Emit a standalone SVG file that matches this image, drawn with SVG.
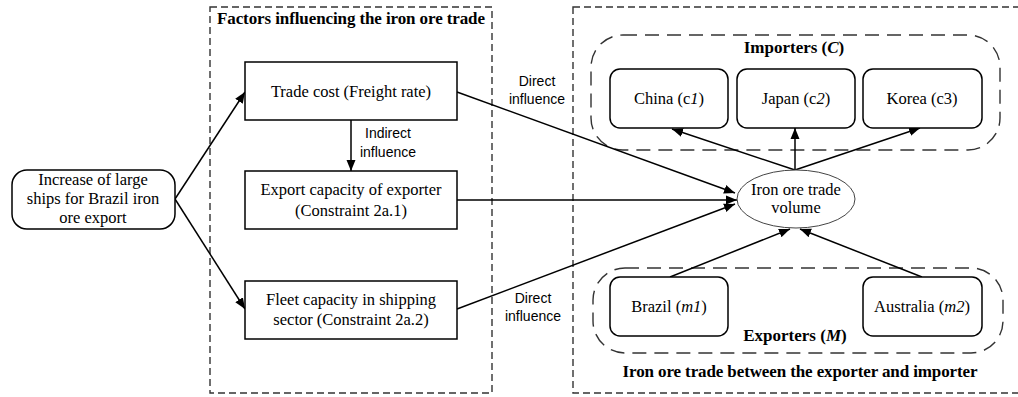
<svg xmlns="http://www.w3.org/2000/svg" width="1018" height="397" viewBox="0 0 1018 397">
  <style>
    .serif { font-family: "Liberation Serif", "Times New Roman", serif; font-size: 16.5px; fill: #000; }
    .bold { font-family: "Liberation Serif", "Times New Roman", serif; font-size: 17px; font-weight: bold; fill: #000; }
    .sans { font-family: "Liberation Sans", Arial, sans-serif; font-size: 14px; fill: #000; }
    .box { fill: #fff; stroke: #000; stroke-width: 1.5; }
    .frame { fill: none; stroke: #333; stroke-width: 1.4; stroke-dasharray: 7 4; }
    .group { fill: none; stroke: #333; stroke-width: 1.4; stroke-dasharray: 14 8; }
    .link { fill: none; stroke: #000; stroke-width: 1.5; marker-end: url(#arrow); }
  </style>
  <defs>
    <marker id="arrow" markerWidth="12" markerHeight="10" refX="11" refY="5" orient="auto" markerUnits="userSpaceOnUse">
      <path d="M0,0.5 L11,5 L0,9.5 z" fill="#000"/>
    </marker>
  </defs>
  <rect width="1018" height="397" fill="#fff"/>

  <!-- dashed frames -->
  <g id="frame-factors">
    <rect class="frame" x="210" y="7" width="282" height="386"/>
    <text class="bold" x="351" y="24" text-anchor="middle" textLength="268" lengthAdjust="spacing">Factors influencing the iron ore trade</text>
  </g>
  <g id="frame-trade">
    <rect class="frame" x="573" y="7" width="470" height="386"/>
    <text class="bold" x="800" y="377" text-anchor="middle" textLength="355" lengthAdjust="spacing">Iron ore trade between the exporter and importer</text>
  </g>
  <g id="group-importers">
    <rect class="group" x="591" y="35" width="409" height="115" rx="32" ry="32"/>
    <text class="bold" x="794" y="53" text-anchor="middle">Importers (<tspan font-style="italic">C</tspan>)</text>
  </g>
  <g id="group-exporters">
    <rect class="group" x="593" y="268" width="410" height="85" rx="32" ry="32"/>
    <text class="bold" x="795" y="341" text-anchor="middle">Exporters (<tspan font-style="italic">M</tspan>)</text>
  </g>

  <!-- connectors -->
  <g id="connectors">
    <path class="link" d="M175,199 L245,92"/>
    <path class="link" d="M175,199 L245,309"/>
    <path class="link" d="M351,120 L351,171"/>
    <path class="link" d="M457,92 L735,193"/>
    <path class="link" d="M457,200 L737,200"/>
    <path class="link" d="M457,309 L735,204"/>
    <path class="link" d="M795,170 L672,129"/>
    <path class="link" d="M795,170 L795,128"/>
    <path class="link" d="M795,170 L920,128"/>
    <path class="link" d="M670,277 L790,229"/>
    <path class="link" d="M922,277 L800,229"/>
    <text class="sans" x="388" y="138" text-anchor="middle">Indirect</text>
    <text class="sans" x="388" y="157" text-anchor="middle">influence</text>
    <text class="sans" x="537" y="86" text-anchor="middle">Direct</text>
    <text class="sans" x="537" y="104" text-anchor="middle">influence</text>
    <text class="sans" x="533" y="303" text-anchor="middle">Direct</text>
    <text class="sans" x="533" y="321" text-anchor="middle">influence</text>
  </g>

  <!-- nodes -->
  <g id="node-increase">
    <rect class="box" x="12" y="170" width="163" height="59" rx="15" ry="15"/>
    <text class="serif" x="93" y="185" text-anchor="middle">Increase of large</text>
    <text class="serif" x="93" y="204" text-anchor="middle">ships for Brazil iron</text>
    <text class="serif" x="93" y="223" text-anchor="middle">ore export</text>
  </g>
  <g id="node-trade-cost">
    <rect class="box" x="245" y="62" width="212" height="58"/>
    <text class="serif" x="351" y="97" text-anchor="middle">Trade cost (Freight rate)</text>
  </g>
  <g id="node-export-capacity">
    <rect class="box" x="245" y="171" width="212" height="58"/>
    <text class="serif" x="351" y="195" text-anchor="middle">Export capacity of exporter</text>
    <text class="serif" x="351" y="216" text-anchor="middle">(Constraint 2a.1)</text>
  </g>
  <g id="node-fleet-capacity">
    <rect class="box" x="245" y="281" width="212" height="58"/>
    <text class="serif" x="351" y="305" text-anchor="middle">Fleet capacity in shipping</text>
    <text class="serif" x="351" y="325" text-anchor="middle">sector (Constraint 2a.2)</text>
  </g>
  <g id="node-volume">
    <ellipse cx="796" cy="199" rx="59" ry="29" fill="#fff" stroke="#444" stroke-width="1"/>
    <text class="serif" x="796" y="195" text-anchor="middle" font-size="16">Iron ore trade</text>
    <text class="serif" x="796" y="213" text-anchor="middle" font-size="16">volume</text>
  </g>
  <g id="node-china">
    <rect class="box" x="610" y="69" width="118" height="59" rx="10" ry="10"/>
    <text class="serif" x="669" y="104" text-anchor="middle">China (c<tspan font-style="italic">1</tspan>)</text>
  </g>
  <g id="node-japan">
    <rect class="box" x="737" y="69" width="118" height="59" rx="10" ry="10"/>
    <text class="serif" x="796" y="104" text-anchor="middle">Japan (c<tspan font-style="italic">2</tspan>)</text>
  </g>
  <g id="node-korea">
    <rect class="box" x="863" y="69" width="119" height="59" rx="10" ry="10"/>
    <text class="serif" x="922" y="104" text-anchor="middle">Korea (c3)</text>
  </g>
  <g id="node-brazil">
    <rect class="box" x="610" y="277" width="118" height="59" rx="10" ry="10"/>
    <text class="serif" x="669" y="312" text-anchor="middle">Brazil (<tspan font-style="italic">m1</tspan>)</text>
  </g>
  <g id="node-australia">
    <rect class="box" x="863" y="277" width="119" height="59" rx="10" ry="10"/>
    <text class="serif" x="922" y="312" text-anchor="middle">Australia (<tspan font-style="italic">m2</tspan>)</text>
  </g>
</svg>
